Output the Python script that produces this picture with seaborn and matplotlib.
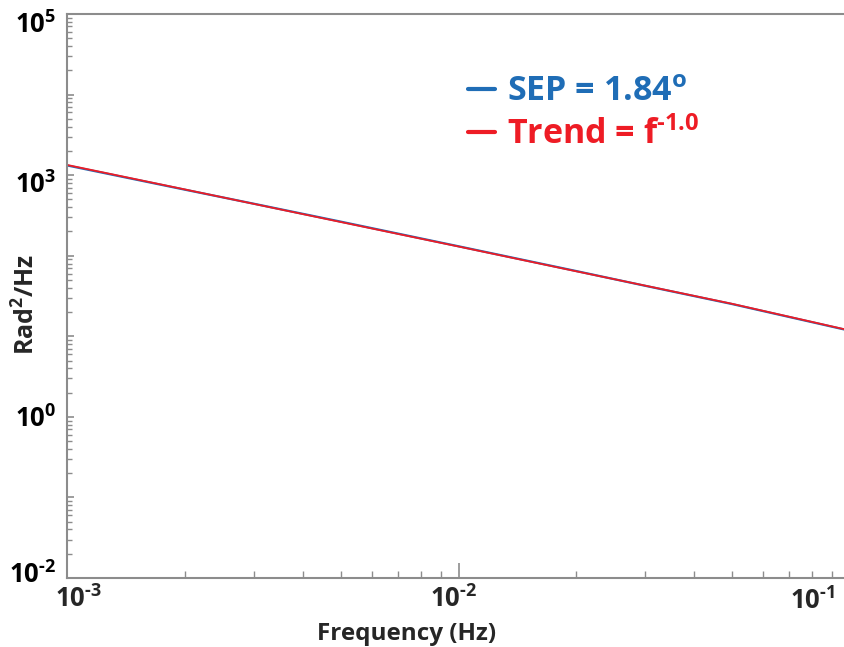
import numpy as np
import pandas as pd
import matplotlib
matplotlib.use("Agg")
import matplotlib.pyplot as plt
import seaborn as sns
from matplotlib.transforms import ScaledTranslation
from matplotlib.ticker import LogLocator, NullFormatter, FixedLocator, FixedFormatter

# ---- data ----
freq = [0.001, 0.002, 0.003, 0.005, 0.01, 0.02, 0.03, 0.05, 0.097]
sep_values = [1320, 660, 442, 265, 131, 64.5, 42.3, 25.1, 12.1]
trend_values = [1340, 665, 440, 262, 130, 64, 42.5, 25.3, 12.2]
sep_label = r"SEP = 1.84$^{o}$"
trend_label = r"Trend = f$^{\text{-1.0}}$"
y_tick_values = [1e-2, 1e0, 1e3, 1e5]
y_tick_labels = [r"$10^{\text{-2}}$", r"$10^{0}$", r"$10^{3}$", r"$10^{5}$"]
x_tick_values = [1e-3, 1e-2]
x_tick_labels = [r"$10^{\text{-3}}$", r"$10^{\text{-2}}$"]
x_extra_label = r"$10^{\text{-1}}$"

sns.set_style("white")
FONT = "Open Sans"
plt.rcParams["font.family"] = [FONT, "DejaVu Sans"]
plt.rcParams["mathtext.fontset"] = "custom"
plt.rcParams["mathtext.rm"] = FONT + ":bold"
plt.rcParams["mathtext.bf"] = FONT + ":bold"
plt.rcParams["mathtext.it"] = FONT + ":bold"
plt.rcParams["mathtext.default"] = "rm"

blue = "#1f6db6"
red = "#ee1c25"
gray = "#8c8c8c"

df = pd.DataFrame({"freq": freq, "SEP": sep_values, "Trend": trend_values})

fig = plt.figure(figsize=(8.45, 6.47), dpi=100)
ax = fig.add_axes([67 / 845, 1 - 578 / 647, 1 - 67 / 845, (578 - 14) / 647])

sns.lineplot(data=df, x="freq", y="SEP", ax=ax, color=blue, lw=1.6, label=sep_label)
sns.lineplot(data=df, x="freq", y="Trend", ax=ax, color=red, lw=1.3, label=trend_label)

ax.set_xscale("log")
ax.set_yscale("log")
ax.set_xlim(1e-3, 0.0971)
ax.set_ylim(1e-2, 1e5)

ax.yaxis.set_major_locator(LogLocator(base=10, numticks=20))
ax.yaxis.set_minor_locator(LogLocator(base=10, subs=np.arange(2, 10), numticks=20))
ax.yaxis.set_minor_formatter(NullFormatter())
ax.yaxis.set_major_formatter(NullFormatter())
ax.xaxis.set_major_locator(FixedLocator(x_tick_values))
ax.xaxis.set_major_formatter(FixedFormatter(x_tick_labels))
ax.xaxis.set_minor_locator(LogLocator(base=10, subs=np.arange(2, 10), numticks=20))
ax.xaxis.set_minor_formatter(NullFormatter())

# y labels placed at their decades, nudged (axes fraction) as in the reference
y_offsets = [0.005, -0.004, -0.017, -0.019]
for v, lab, off in zip(y_tick_values, y_tick_labels, y_offsets):
    yfrac = (np.log10(v) + 2) / 7 + off
    ax.text(-0.014, yfrac, lab, transform=ax.transAxes, ha="right", va="center",
            fontsize=18.5, color="black")

ax.tick_params(axis="both", which="both", left=True, bottom=True, top=False, right=False)
ax.tick_params(axis="y", which="major", direction="in", length=5, width=1.2, color=gray)
ax.tick_params(axis="y", which="minor", direction="in", length=3.5, width=1.0, color=gray)
ax.tick_params(axis="x", which="major", direction="in", length=11, width=1.2, color=gray,
               labelsize=18.5, pad=5)
ax.tick_params(axis="x", which="minor", direction="in", length=5, width=1.0, color=gray)

x_label_shift_px = [11, -5]
for lab, dx in zip(ax.get_xticklabels(), x_label_shift_px):
    lab.set_transform(lab.get_transform() + ScaledTranslation(dx / 100, 0, fig.dpi_scale_trans))

ax.text(0.958, -0.016, x_extra_label, transform=ax.transAxes, ha="center", va="top", fontsize=18.5)

for s in ["left", "bottom", "top"]:
    ax.spines[s].set_color(gray)
    ax.spines[s].set_linewidth(1.5)
ax.spines["right"].set_visible(False)

ax.set_xlabel("Frequency (Hz)", fontsize=17.5, fontweight="bold")
ax.xaxis.set_label_coords(0.436, -0.078)
ax.set_ylabel(r"Rad$^{2}$/Hz", fontsize=18, fontweight="bold")
ax.yaxis.set_label_coords(-0.034, 0.485)

leg = ax.legend(loc="upper left", bbox_to_anchor=(0.476, 0.947), frameon=False,
                prop={"size": 24.5, "weight": "bold"}, handlelength=0.8, handletextpad=0.35,
                labelspacing=0.26, labelcolor="linecolor")
for h in leg.get_lines():
    h.set_linewidth(3)

fig.savefig("out.png", dpi=100)
